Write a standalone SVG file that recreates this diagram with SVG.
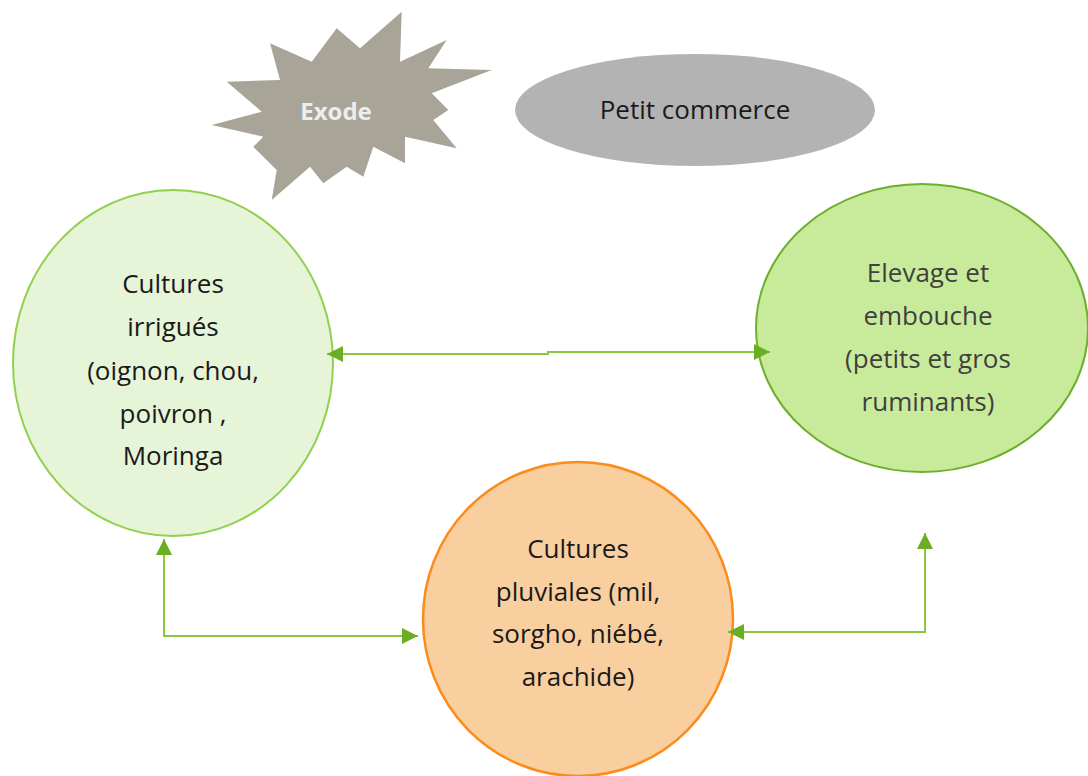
<svg xmlns="http://www.w3.org/2000/svg" width="1088" height="776" viewBox="0 0 1088 776">
<style>
  .t { font-family: "Open Sans", "Liberation Sans", sans-serif; font-size: 26px; text-anchor: middle; fill: #1a1a1a; }
  .tg { fill: #404040; }
  .conn { fill: none; stroke: #8cc63f; stroke-width: 2; }
</style>
<defs>
  <marker id="ah" viewBox="0 0 10 10" refX="10" refY="5" markerWidth="8" markerHeight="8" markerUnits="strokeWidth" orient="auto-start-reverse">
    <path d="M0,0 L10,5 L0,10 Z" fill="#6aaf23"/>
  </marker>
</defs>
<rect width="1088" height="776" fill="#ffffff"/>

<g id="exode">
  <polygon fill="#a8a598" points="401.7,11.7 400,61.7 446.7,40 428.3,68.3 491.7,70 431.7,93.3 448.3,110 433.3,120 456.7,148.3 405,136.7 405,163.3 373.3,146.7 363.3,176.7 346.7,166.7 323.3,183.3 310,166.7 271.7,200 276.7,170 253.3,146.7 263.3,136.7 211.7,125 261.7,111.7 226.7,81.7 280,80 270,43.3 311.7,61.7 336.7,28.3 360,48.3"/>
  <text x="336" y="120" font-family="Open Sans, Liberation Sans, sans-serif" font-size="24" font-weight="bold" text-anchor="middle" fill="#eeeeee">Exode</text>
</g>

<g id="petit-commerce">
  <ellipse cx="695" cy="110" rx="180" ry="56" fill="#b3b3b3"/>
  <text class="t" x="695" y="119">Petit commerce</text>
</g>

<g id="cultures-irriguees">
  <ellipse cx="173" cy="363" rx="160" ry="173" fill="#e6f4d8" stroke="#92d050" stroke-width="2"/>
  <text class="t" x="173" y="293">Cultures</text>
  <text class="t" x="173" y="336">irrigués</text>
  <text class="t" x="173" y="380">(oignon, chou,</text>
  <text class="t" x="173" y="423">poivron ,</text>
  <text class="t" x="173" y="465">Moringa</text>
</g>

<g id="elevage">
  <ellipse cx="922" cy="328" rx="166" ry="144" fill="#c8eb9b" stroke="#6fae2b" stroke-width="2"/>
  <text class="t tg" x="928" y="282">Elevage et</text>
  <text class="t tg" x="928" y="325">embouche</text>
  <text class="t tg" x="928" y="368">(petits et gros</text>
  <text class="t tg" x="928" y="411">ruminants)</text>
</g>

<g id="cultures-pluviales">
  <ellipse cx="578" cy="619" rx="155" ry="157" fill="#f9cfa0" stroke="#fb8c1c" stroke-width="2.5"/>
  <text class="t" x="578" y="558">Cultures</text>
  <text class="t" x="578" y="601">pluviales (mil,</text>
  <text class="t" x="578" y="643">sorgho, niébé,</text>
  <text class="t" x="578" y="686">arachide)</text>
</g>

<g id="connectors">
  <path class="conn" d="M327,354 L548,354 L548,352 L770,352" marker-start="url(#ah)" marker-end="url(#ah)"/>
  <path class="conn" d="M164,539 L164,636 L418,636" marker-start="url(#ah)" marker-end="url(#ah)"/>
  <path class="conn" d="M728,632 L925,632 L925,533" marker-start="url(#ah)" marker-end="url(#ah)"/>
</g>
</svg>
